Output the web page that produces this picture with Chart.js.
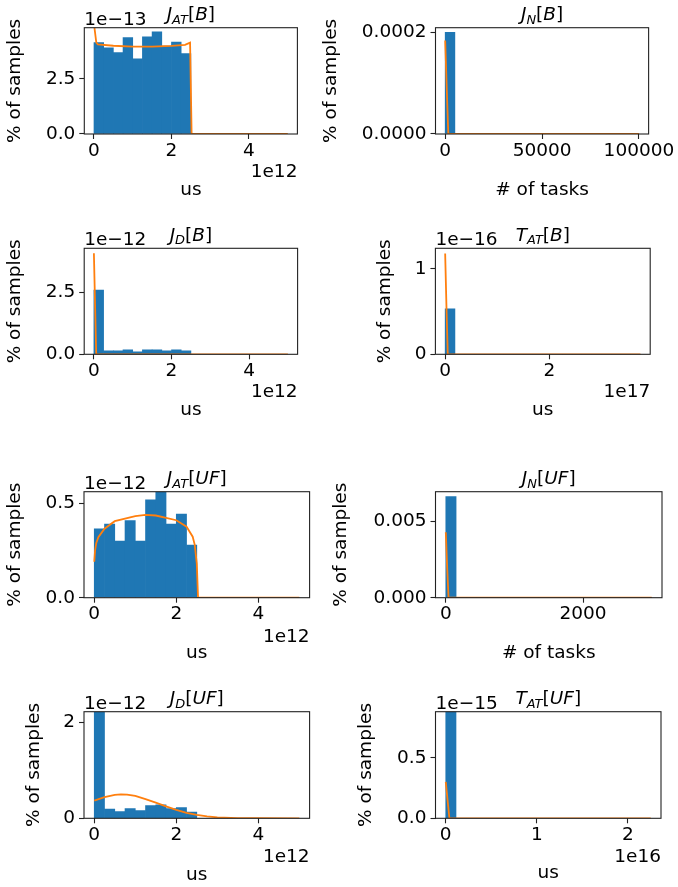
<!DOCTYPE html>
<html>
<head>
<meta charset="utf-8">
<script src="https://cdn.jsdelivr.net/npm/chart.js@4.4.1/dist/chart.umd.min.js"></script>
<style>
  body { margin: 0; background: #fff; width: 678px; height: 887px; overflow: hidden; position: relative; }
  canvas { position: absolute; left: 0; top: 0; }
</style>
</head>
<body>
<canvas id="c0" width="678" height="887"></canvas>
<canvas id="c1" width="678" height="887"></canvas>
<canvas id="c2" width="678" height="887"></canvas>
<canvas id="c3" width="678" height="887"></canvas>
<canvas id="c4" width="678" height="887"></canvas>
<canvas id="c5" width="678" height="887"></canvas>
<canvas id="c6" width="678" height="887"></canvas>
<canvas id="c7" width="678" height="887"></canvas>
<script>
// histogram bin centres (20 bins each)
var usBins = [0.125, 0.375, 0.625, 0.875, 1.125, 1.375, 1.625, 1.875, 2.125, 2.375,
              2.625, 2.875, 3.125, 3.375, 3.625, 3.875, 4.125, 4.375, 4.625, 4.875];
var jnBBins = [2500, 7500, 12500, 17500, 22500, 27500, 32500, 37500, 42500, 47500,
               52500, 57500, 62500, 67500, 72500, 77500, 82500, 87500, 92500, 97500];
var jnUFBins = [75, 225, 375, 525, 675, 825, 975, 1125, 1275, 1425,
                1575, 1725, 1875, 2025, 2175, 2325, 2475, 2625, 2775, 2925];
var tatBBins = [0.09375, 0.28125, 0.46875, 0.65625, 0.84375, 1.03125, 1.21875, 1.40625, 1.59375, 1.78125,
                1.96875, 2.15625, 2.34375, 2.53125, 2.71875, 2.90625, 3.09375, 3.28125, 3.46875, 3.65625];
var tatUFBins = [0.05625, 0.16875, 0.28125, 0.39375, 0.50625, 0.61875, 0.73125, 0.84375, 0.95625, 1.06875,
                 1.18125, 1.29375, 1.40625, 1.51875, 1.63125, 1.74375, 1.85625, 1.96875, 2.08125, 2.19375];

// bar heights (in the axis' displayed units)
var jatBHist = [4.15, 3.92, 3.70, 4.38, 3.41, 4.42, 4.64, 4.00, 4.18, 3.65, 0, 0, 0, 0, 0, 0, 0, 0, 0, 0];
var jnBHist = [0.0002, 0, 0, 0, 0, 0, 0, 0, 0, 0, 0, 0, 0, 0, 0, 0, 0, 0, 0, 0];
var jdBHist = [2.59, 0.14, 0.14, 0.18, 0.10, 0.18, 0.18, 0.14, 0.18, 0.14, 0, 0, 0, 0, 0, 0, 0, 0, 0, 0];
var tatBHist = [0.533, 0, 0, 0, 0, 0, 0, 0, 0, 0, 0, 0, 0, 0, 0, 0, 0, 0, 0, 0];
var jatUFHist = [0.364, 0.389, 0.300, 0.408, 0.300, 0.518, 0.560, 0.390, 0.443, 0.279, 0, 0, 0, 0, 0, 0, 0, 0, 0, 0];
var jnUFHist = [0.00665, 0, 0, 0, 0, 0, 0, 0, 0, 0, 0, 0, 0, 0, 0, 0, 0, 0, 0, 0];
var jdUFHist = [2.21, 0.194, 0.139, 0.200, 0.160, 0.264, 0.278, 0.200, 0.222, 0.132, 0, 0, 0, 0, 0, 0, 0, 0, 0, 0];
var tatUFHist = [0.889, 0, 0, 0, 0, 0, 0, 0, 0, 0, 0, 0, 0, 0, 0, 0, 0, 0, 0, 0];

// orange density curves
var jatBKdeX = [0, 0.06, 0.1, 0.5, 1.0, 1.5, 2.0, 2.35, 2.48, 2.52, 3.0, 4.0, 5.0];
var jatBKdeY = [5.0, 4.15, 4.07, 4.01, 3.97, 3.97, 4.00, 4.05, 4.15, 0, 0, 0, 0];
var jnBKdeX = [0, 800, 1600, 100000];
var jnBKdeY = [0.000184, 0.00009, 0, 0];
var jdBKdeX = [0, 0.03, 0.06, 0.5, 5.0];
var jdBKdeY = [4.07, 2.0, 0, 0, 0];
var tatBKdeX = [0, 0.025, 0.05, 3.75];
var tatBKdeY = [1.18, 0.55, 0, 0];
var jatUFKdeX = [0, 0.02, 0.05, 0.1, 0.25, 0.5, 1.0, 1.25, 1.5, 2.0, 2.25, 2.4, 2.45, 2.5, 2.53, 3.0, 4.0, 5.0];
var jatUFKdeY = [0.19, 0.25, 0.29, 0.32, 0.365, 0.405, 0.432, 0.438, 0.435, 0.41, 0.376, 0.323, 0.28, 0.18, 0, 0, 0, 0];
var jnUFKdeX = [0, 20, 40, 3000];
var jnUFKdeY = [0.0043, 0.002, 0, 0];
var jdUFKdeX = [0, 0.25, 0.5, 0.65, 0.8, 1.0, 1.25, 1.5, 1.75, 2.0, 2.25, 2.5, 2.75, 3.0, 3.5, 4.0, 5.0];
var jdUFKdeY = [0.368, 0.44, 0.49, 0.50, 0.495, 0.465, 0.40, 0.326, 0.25, 0.174, 0.115, 0.07, 0.04, 0.02, 0.005, 0.001, 0];
var tatUFKdeX = [0, 0.02, 0.04, 2.25];
var tatUFKdeY = [0.30, 0.15, 0, 0];

// ticks
var usTicks = [0, 2, 4];
var usTickLabels = ['0', '2', '4'];

var BLUE = '#1f77b4';
var ORANGE = '#ff7f0e';
var FAM = "'DejaVu Sans', sans-serif";
var FS = 18.5;
var LH = FS * 1.2;
var SPINE = '#222';

Chart.defaults.color = '#000';
Chart.defaults.font.family = FAM;

var panels = [
  { title: ['J', 'AT', 'B'], xlab: 'us', yOff: '1e\u221213', xOff: '1e12',
    L: 84.3, R: 297.4, T: 27.7, B: 134, ylabX: 15, xlabY: 190.5, xOffY: 171.7,
    xMin: -0.25, xMax: 5.25, yMax: 4.83, bins: usBins, hist: jatBHist, kdeX: jatBKdeX, kdeY: jatBKdeY,
    xTicks: usTicks, xLabels: usTickLabels, yTicks: [0, 2.5], yLabels: ['0.0', '2.5'] },
  { title: ['J', 'N', 'B'], xlab: '# of tasks', yOff: '', xOff: '',
    L: 435.5, R: 650.3, T: 27.7, B: 134, ylabX: 331, xlabY: 190, xOffY: 0,
    xMin: -5000, xMax: 105000, yMax: 0.000209, bins: jnBBins, hist: jnBHist, kdeX: jnBKdeX, kdeY: jnBKdeY,
    xTicks: [0, 50000, 100000], xLabels: ['0', '50000', '100000'], yTicks: [0, 0.0002], yLabels: ['0.0000', '0.0002'] },
  { title: ['J', 'D', 'B'], xlab: 'us', yOff: '1e\u221212', xOff: '1e12',
    L: 84.2, R: 297.6, T: 248.3, B: 354.3, ylabX: 15, xlabY: 410, xOffY: 391.7,
    xMin: -0.25, xMax: 5.25, yMax: 4.27, bins: usBins, hist: jdBHist, kdeX: jdBKdeX, kdeY: jdBKdeY,
    xTicks: usTicks, xLabels: usTickLabels, yTicks: [0, 2.5], yLabels: ['0.0', '2.5'] },
  { title: ['T', 'AT', 'B'], xlab: 'us', yOff: '1e\u221216', xOff: '1e17',
    L: 435.4, R: 650.2, T: 248.3, B: 354.3, ylabX: 385.5, xlabY: 410, xOffY: 391.7,
    xMin: -0.1875, xMax: 3.9375, yMax: 1.24, bins: tatBBins, hist: tatBHist, kdeX: tatBKdeX, kdeY: tatBKdeY,
    xTicks: [0, 2], xLabels: ['0', '2'], yTicks: [0, 1], yLabels: ['0', '1'] },
  { title: ['J', 'AT', 'UF'], xlab: 'us', yOff: '1e\u221212', xOff: '1e12',
    L: 84, R: 309.6, T: 491.7, B: 597.7, ylabX: 15, xlabY: 653, xOffY: 636.7,
    xMin: -0.25, xMax: 5.25, yMax: 0.561, bins: usBins, hist: jatUFHist, kdeX: jatUFKdeX, kdeY: jatUFKdeY,
    xTicks: usTicks, xLabels: usTickLabels, yTicks: [0, 0.5], yLabels: ['0.0', '0.5'] },
  { title: ['J', 'N', 'UF'], xlab: '# of tasks', yOff: '', xOff: '',
    L: 435.5, R: 662, T: 491.7, B: 597.7, ylabX: 341, xlabY: 653, xOffY: 0,
    xMin: -150, xMax: 3150, yMax: 0.00697, bins: jnUFBins, hist: jnUFHist, kdeX: jnUFKdeX, kdeY: jnUFKdeY,
    xTicks: [0, 2000], xLabels: ['0', '2000'], yTicks: [0, 0.005], yLabels: ['0.000', '0.005'] },
  { title: ['J', 'D', 'UF'], xlab: 'us', yOff: '1e\u221212', xOff: '1e12',
    L: 84, R: 309.6, T: 711.7, B: 818.3, ylabX: 34, xlabY: 875, xOffY: 856.7,
    xMin: -0.25, xMax: 5.25, yMax: 2.22, bins: usBins, hist: jdUFHist, kdeX: jdUFKdeX, kdeY: jdUFKdeY,
    xTicks: usTicks, xLabels: usTickLabels, yTicks: [0, 2], yLabels: ['0', '2'] },
  { title: ['T', 'AT', 'UF'], xlab: 'us', yOff: '1e\u221215', xOff: '1e16',
    L: 435.5, R: 661, T: 711.7, B: 818.3, ylabX: 366, xlabY: 873, xOffY: 856.7,
    xMin: -0.1125, xMax: 2.3625, yMax: 0.88, bins: tatUFBins, hist: tatUFHist, kdeX: tatUFKdeX, kdeY: tatUFKdeY,
    xTicks: [0, 1, 2], xLabels: ['0', '1', '2'], yTicks: [0, 0.5], yLabels: ['0.0', '0.5'] }
];

// box, title (mathtext-ish) and offset texts
function decor(p) {
  return {
    id: 'decor',
    afterDatasetsDraw: function (chart) {
      var ctx = chart.ctx, a = chart.chartArea;
      ctx.save();
      ctx.strokeStyle = SPINE;
      ctx.lineWidth = 1.1;
      ctx.strokeRect(a.left, a.top, a.right - a.left, a.bottom - a.top);
      ctx.restore();
    },
    afterDraw: function (chart) {
      var ctx = chart.ctx, a = chart.chartArea;
      ctx.save();
      ctx.fillStyle = '#000';
      ctx.textBaseline = 'alphabetic';
      // title pieces: italic letter, smaller subscript, [italic]
      var it = 'italic ' + FS + 'px ' + FAM;
      var itSub = 'italic ' + (FS * 0.7) + 'px ' + FAM;
      var rm = FS + 'px ' + FAM;
      var pieces = [
        [p.title[0], it, 0], [p.title[1], itSub, 3.5],
        ['[', rm, 0], [p.title[2], it, 0], [']', rm, 0]
      ];
      var total = 0;
      pieces.forEach(function (pc) { ctx.font = pc[1]; pc.push(ctx.measureText(pc[0]).width); total += pc[3]; });
      var x = (a.left + a.right) / 2 - total / 2;
      var base = a.top - 7.7;
      pieces.forEach(function (pc) {
        ctx.font = pc[1];
        ctx.textAlign = 'left';
        ctx.fillText(pc[0], x, base + pc[2]);
        x += pc[3];
      });
      ctx.font = rm;
      if (p.yOff) {
        ctx.textAlign = 'left';
        ctx.fillText(p.yOff, a.left, a.top - 3);
      }
      if (p.xOff) {
        ctx.textAlign = 'right';
        ctx.textBaseline = 'middle';
        ctx.fillText(p.xOff, a.right, p.xOffY);
      }
      ctx.restore();
    }
  };
}

function makeChart(id, p) {
  var padLeft = p.ylabX - LH / 2;
  var padBottom = 887 - (p.xlabY + LH / 2);
  var tickFont = { size: FS, family: FAM, lineHeight: 1 };
  function grid() {
    return { display: true, offset: false, drawOnChartArea: false, drawTicks: true,
             tickLength: 5, tickColor: SPINE, tickWidth: 1.1 };
  }
  return new Chart(document.getElementById(id), {
    type: 'bar',
    data: {
      datasets: [
        {
          type: 'line',
          data: p.kdeX.map(function (x, i) { return { x: x, y: p.kdeY[i] }; }),
          borderColor: ORANGE, borderWidth: 1.8, pointRadius: 0, tension: 0, fill: false, clip: 0
        },
        {
          type: 'bar',
          data: p.bins.map(function (x, i) { return { x: x, y: p.hist[i] }; }),
          backgroundColor: BLUE, borderWidth: 0, barPercentage: 1, categoryPercentage: 1, clip: 0
        }
      ]
    },
    options: {
      responsive: false,
      animation: false,
      layout: { autoPadding: false, padding: { left: padLeft, top: p.T, right: 678 - p.R, bottom: padBottom } },
      plugins: { legend: { display: false }, tooltip: { enabled: false }, title: { display: false } },
      scales: {
        x: {
          type: 'linear', offset: false, min: p.xMin, max: p.xMax,
          afterBuildTicks: function (s) { s.ticks = p.xTicks.map(function (v) { return { value: v }; }); },
          afterFit: function (s) { s.height = p.xlabY + LH / 2 - p.B; },
          ticks: { font: tickFont, padding: 2.5, maxRotation: 0, autoSkip: false, color: '#000',
                   callback: function (v, i) { return p.xLabels[i]; } },
          grid: grid(),
          border: { display: false },
          title: { display: true, text: p.xlab, color: '#000', padding: 0, font: { size: FS, family: FAM } }
        },
        y: {
          type: 'linear', min: 0, max: p.yMax,
          afterBuildTicks: function (s) { s.ticks = p.yTicks.map(function (v) { return { value: v }; }); },
          afterFit: function (s) { s.width = p.L - padLeft; },
          ticks: { font: tickFont, padding: 4, autoSkip: false, color: '#000',
                   callback: function (v, i) { return p.yLabels[i]; } },
          grid: grid(),
          border: { display: false },
          title: { display: true, text: '% of samples', color: '#000', padding: 0, font: { size: FS, family: FAM } }
        }
      }
    },
    plugins: [decor(p)]
  });
}

panels.forEach(function (p, i) { makeChart('c' + i, p); });
</script>
</body>
</html>
